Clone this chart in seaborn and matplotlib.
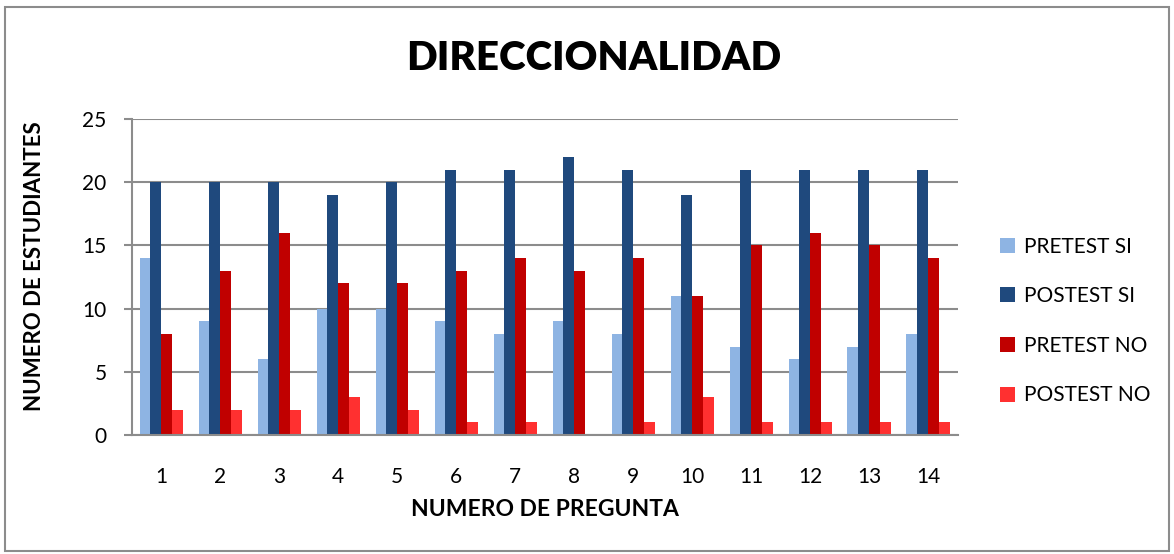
import matplotlib
matplotlib.use("Agg")
import matplotlib.pyplot as plt
import seaborn as sns
import pandas as pd
from matplotlib.patches import Rectangle

preguntas = [str(i) for i in range(1, 15)]
pretest_si = [14, 9, 6, 10, 10, 9, 8, 9, 8, 11, 7, 6, 7, 8]
postest_si = [20, 20, 20, 19, 20, 21, 21, 22, 21, 19, 21, 21, 21, 21]
pretest_no = [8, 13, 16, 12, 12, 13, 14, 13, 14, 11, 15, 16, 15, 14]
postest_no = [2, 2, 2, 3, 2, 1, 1, 0, 1, 3, 1, 1, 1, 1]
series = ["PRETEST SI", "POSTEST SI", "PRETEST NO", "POSTEST NO"]
colors = ["#8EB4E3", "#1F497D", "#C00000", "#FF3030"]

rows = []
for name, vals in zip(series, [pretest_si, postest_si, pretest_no, postest_no]):
    for p, v in zip(preguntas, vals):
        rows.append({"pregunta": p, "serie": name, "valor": v})
df = pd.DataFrame(rows)

sns.set_theme(style="white")
plt.rcParams['font.family'] = ['Lato', 'DejaVu Sans']
plt.rcParams['text.color'] = 'black'
plt.rcParams['axes.labelcolor'] = 'black'
plt.rcParams['xtick.color'] = 'black'
plt.rcParams['ytick.color'] = 'black'

W, H = 1174, 554
fig = plt.figure(figsize=(W / 100, H / 100), dpi=100)
x0, x1, y0, y1 = 131.7, 957.5, 119, 435
ax = fig.add_axes([x0 / W, 1 - y1 / H, (x1 - x0) / W, (y1 - y0) / H])

sns.barplot(data=df, x="pregunta", y="valor", hue="serie", palette=colors,
            hue_order=series, order=preguntas, width=0.73, gap=0, ax=ax,
            saturation=1, errorbar=None, edgecolor="none", linewidth=0)

ax.set_ylim(0, 25)
ax.set_yticks([0, 5, 10, 15, 20, 25])
ax.set_xlim(-0.5, 13.5)
ax.yaxis.grid(True, color="#8C8C8C", linewidth=1.5)
ax.set_axisbelow(True)
for s in ["top", "right"]:
    ax.spines[s].set_visible(False)
for s in ["left", "bottom"]:
    ax.spines[s].set_color("#8C8C8C")
    ax.spines[s].set_linewidth(1.5)
ax.tick_params(axis="y", left=True, length=6, color="#8C8C8C", width=1.5,
               labelsize=15, pad=12, labelcolor="black")
ax.tick_params(axis="x", bottom=False, labelsize=15, pad=17, labelcolor="black")

ax.set_xlabel("NUMERO DE PREGUNTA", fontsize=16.5, fontweight="bold")
ax.set_ylabel("NUMERO DE ESTUDIANTES", fontsize=16, fontweight="bold")
ax.xaxis.set_label_coords((545 - x0) / (x1 - x0), (y1 - 510) / (y1 - y0))
ax.yaxis.set_label_coords((35 - x0) / (x1 - x0), (y1 - 266) / (y1 - y0))
ax.xaxis.label.set_va("center")
ax.yaxis.label.set_va("center")

fig.text(0.506, 1 - 58 / H, "DIRECCIONALIDAD", fontsize=29, fontweight="heavy",
         ha="center", va="center")

leg = ax.legend(loc="center left", bbox_to_anchor=(990 / W, 1 - 321 / H),
                bbox_transform=fig.transFigure, frameon=False, borderpad=0,
                fontsize=15, labelspacing=1.42, handlelength=0.72, handleheight=0.72,
                handletextpad=0.4, title=None)

fig.patches.append(Rectangle((0.004, 0.006), 0.992, 0.982, transform=fig.transFigure,
                             fill=False, edgecolor="#8C8C8C", linewidth=1.5))

fig.savefig("out.png", dpi=100, facecolor="white")
